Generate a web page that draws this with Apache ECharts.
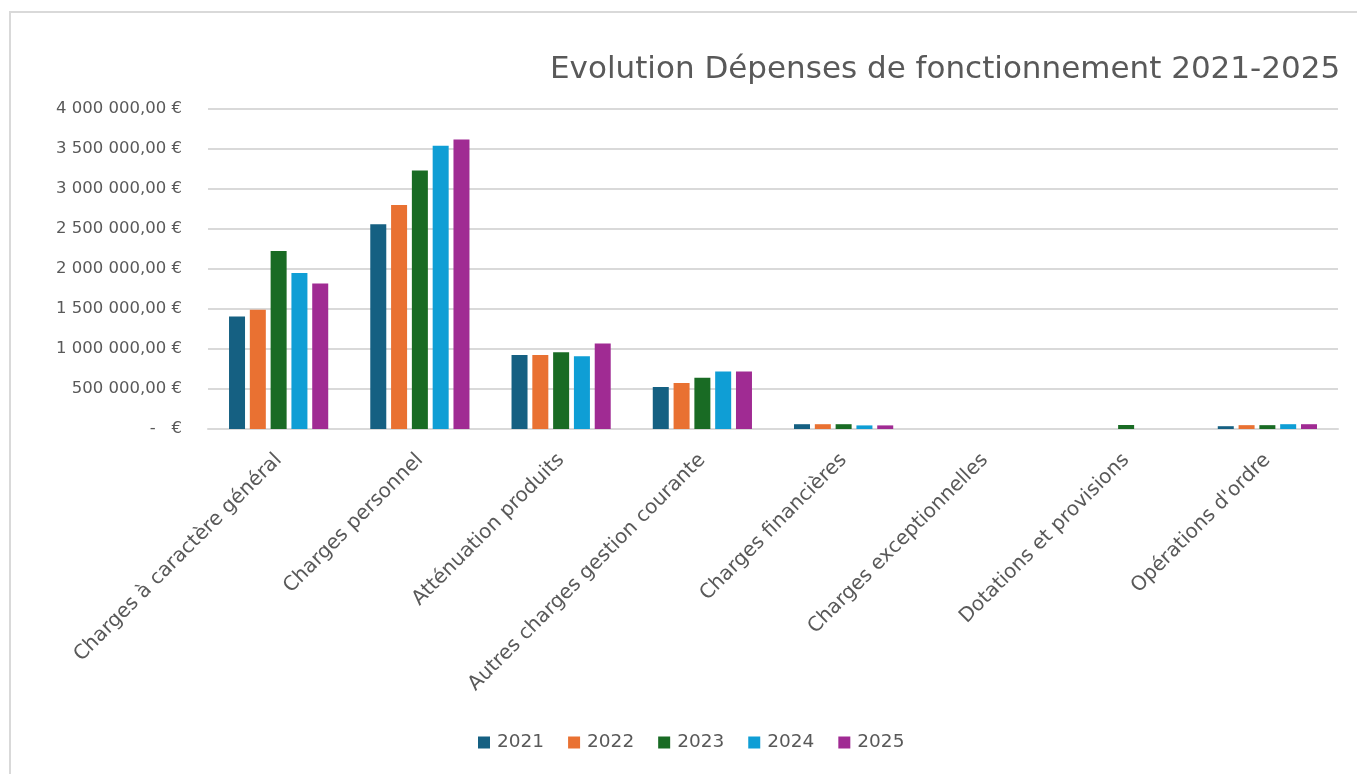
<!DOCTYPE html>
<html>
<head>
<meta charset="utf-8">
<script src="https://cdn.jsdelivr.net/npm/echarts@6/dist/echarts.min.js"></script>
<style>
  html, body { margin: 0; padding: 0; background: #fff; }
  #frame { position: absolute; left: 9px; top: 11px; width: 1400px; height: 800px; border: 2px solid #d9d9d9; box-sizing: border-box; }
  #chart { position: absolute; left: 0; top: 0; width: 1357px; height: 774px; }
</style>
</head>
<body>
<div id="frame"></div>
<div id="chart"></div>
<script>
// données
var categories = ['Charges à caractère général', 'Charges personnel', 'Atténuation produits',
  'Autres charges gestion courante', 'Charges financières', 'Charges exceptionnelles',
  'Dotations et provisions', "Opérations d'ordre"];
var years = ['2021', '2022', '2023', '2024', '2025'];
var v2021 = [1405000, 2560000, 925000, 525000, 60000, 0, 0, 35000];
var v2022 = [1490000, 2800000, 925000, 575000, 60000, 0, 0, 48000];
var v2023 = [2225000, 3230000, 960000, 640000, 60000, 0, 50000, 48000];
var v2024 = [1950000, 3540000, 910000, 720000, 45000, 0, 0, 60000];
var v2025 = [1820000, 3620000, 1070000, 720000, 45000, 0, 0, 60000];
var colors = ['#156082', '#E97132', '#196B24', '#0F9ED5', '#A02B93'];

var chart = echarts.init(document.getElementById('chart'));

function euro(v){
  if (v == 0) return '-   €';
  var s = String(Math.round(v)).replace(/\B(?=(\d{3})+(?!\d))/g, ' ');
  return s + ',00 €';
}

var allData = [v2021, v2022, v2023, v2024, v2025];
var series = [];
for (var i in years){
  series.push({
    name: years[i],
    type: 'bar',
    barWidth: 16,
    barGap: '30%',
    data: allData[i],
    itemStyle: { color: colors[i] }
  });
}

var option = {
  color: colors,
  animation: false,
  textStyle: { fontFamily: 'DejaVu Sans, sans-serif' },
  title: {
    text: 'Evolution Dépenses de fonctionnement 2021-2025',
    left: 545,
    top: 49,
    textStyle: { color: '#595959', fontSize: 31, fontWeight: 'normal', fontFamily: 'DejaVu Sans' }
  },
  legend: {
    bottom: 17,
    left: 473,
    itemWidth: 12,
    itemHeight: 12,
    itemGap: 24,
    icon: 'rect',
    textStyle: { color: '#595959', fontSize: 18.5, padding: [0, 0, 0, 2] }
  },
  grid: { left: 208, right: 19, top: 109, bottom: 345 },
  xAxis: {
    type: 'category',
    data: categories,
    axisTick: { show: false },
    axisLine: { lineStyle: { color: '#d9d9d9', width: 2 } },
    axisLabel: { rotate: 45, color: '#595959', fontSize: 20, margin: 28, interval: 0 }
  },
  yAxis: {
    type: 'value',
    min: 0,
    max: 4000000,
    interval: 500000,
    axisLabel: { color: '#595959', fontSize: 16.5, margin: 26, formatter: euro },
    splitLine: { lineStyle: { color: '#d9d9d9', width: 2 } },
    axisLine: { show: false },
    axisTick: { show: false }
  },
  series: series
};
chart.setOption(option);
</script>
</body>
</html>
